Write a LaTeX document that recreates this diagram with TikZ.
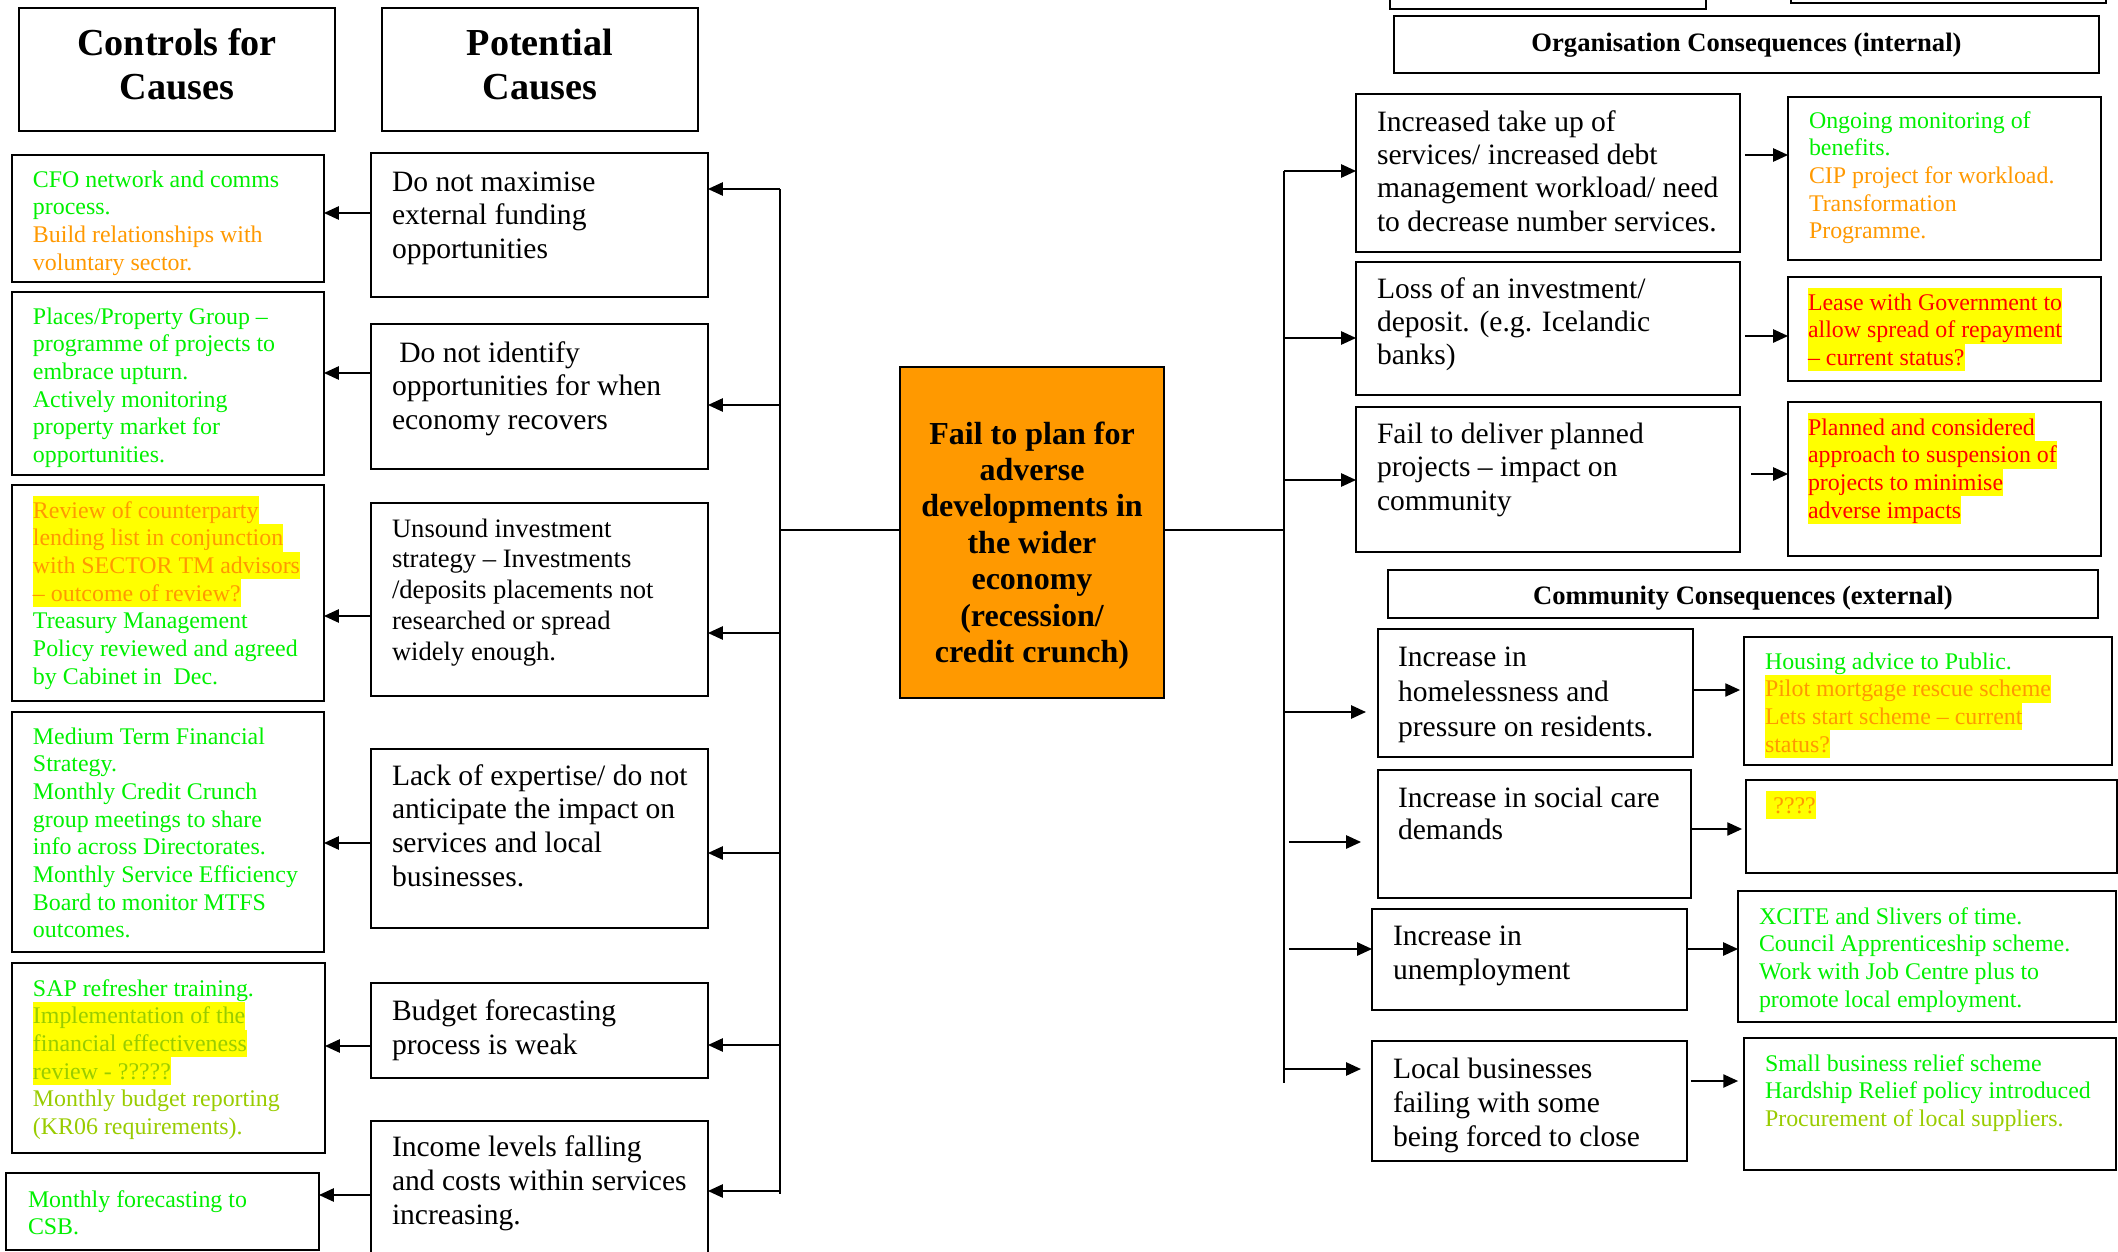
\documentclass[tikz,border=0pt]{standalone}
\usepackage{fontspec}
\setmainfont{Liberation Serif}
\usetikzlibrary{arrows.meta}

\definecolor{cgreen}{RGB}{0,240,0}
\definecolor{corange}{RGB}{255,153,0}
\definecolor{clime}{RGB}{153,204,0}
\definecolor{cred}{RGB}{255,0,0}
\definecolor{hly}{RGB}{255,255,0}

% one drawing unit
\newdimen\pxdim \pxdim=0.406pt

% box body: width, height, left pad, first baseline, content (top aligned, ragged right)
\newcommand\cellbox[5]{\parbox[c][#2\pxdim][t]{#1\pxdim}{\raggedright\leftskip=#3\pxdim\relax\lineskiplimit=-20pt\relax\rule{0pt}{#4\pxdim}#5}}
% centred variant: width, height, first baseline, content
\newcommand\cellboxc[4]{\parbox[c][#2\pxdim][t]{#1\pxdim}{\centering\lineskiplimit=-20pt\relax\rule{0pt}{#3\pxdim}#4}}

% text sizes
\newcommand\fcause{\fontsize{12}{13.8}\selectfont}
\newcommand\fctl{\fontsize{9.7}{11.25}\selectfont}
\newcommand\fhead{\bfseries\fontsize{15.5}{17.9}\selectfont}
\newcommand\fmain{\bfseries\fontsize{13}{14.8}\selectfont}
\newcommand\fsub{\bfseries\fontsize{10.8}{13}\selectfont}

% yellow marker behind one line of small text
\newcommand\hlc[1]{{\setlength\fboxsep{0pt}\colorbox{hly}{\rule[-2.45pt]{0pt}{11.25pt}#1}}}

\begin{document}
\begin{tikzpicture}[x=0.406pt,y=-0.406pt,
  bx/.style={draw=black, line width=0.6pt, inner sep=0pt, outer sep=0pt, anchor=north west},
  hd/.style={bx, line width=0.9pt},
  ln/.style={line width=0.55pt},
  arr/.style={line width=0.55pt, -{Triangle[length=6pt,width=5.4pt]}}]
\useasboundingbox (0,0) rectangle (2118,1252);
\fill[white] (0,0) rectangle (2118,1252);
\clip (0,0) rectangle (2118,1252);

% ---------- column headings ----------
\node[hd] (ctlhead) at (19,8) {\cellboxc{316}{123}{47}{\fhead Controls for\\Causes}};
\node[hd] (causehead) at (382,8) {\cellboxc{316}{123}{47}{\fhead Potential\\Causes}};

% ---------- controls for causes ----------
\node[bx] (cfo) at (12,155) {\cellbox{312}{127}{21}{32}{\fctl\color{cgreen}CFO network and comms\\process.\\\color{corange}Build relationships with\\voluntary sector.}};
\node[bx] (places) at (12,292) {\cellbox{312}{183}{21}{32}{\fctl\color{cgreen}Places/Property Group –\\programme of projects to\\embrace upturn.\\Actively monitoring\\property market for\\opportunities.}};
\node[bx] (review) at (12,485) {\cellbox{312}{216}{21}{33}{\fctl\color{corange}\hlc{Review of counterparty}\\\hlc{lending list in conjunction}\\\hlc{with SECTOR TM advisors}\\\hlc{– outcome of review?}\\\color{cgreen}Treasury Management\\Policy reviewed and agreed\\by Cabinet in\ \ Dec.}};
\node[bx] (medium) at (12,712) {\cellbox{312}{240}{21}{32}{\fctl\color{cgreen}Medium Term Financial\\Strategy.\\Monthly Credit Crunch\\group meetings to share\\info across Directorates.\\Monthly Service Efficiency\\Board to monitor MTFS\\outcomes.}};
\node[bx] (sap) at (12,963) {\cellbox{313}{190}{21}{33}{\fctl\color{cgreen}SAP refresher training.\\\color{clime}\hlc{Implementation of the}\\\hlc{financial effectiveness}\\\hlc{review - ?????}\\Monthly budget reporting\\(KR06 requirements).}};
\node[bx] (mfc) at (6,1173) {\cellbox{313}{77}{22}{34}{\fctl\color{cgreen}Monthly forecasting to\\CSB.}};

% ---------- potential causes ----------
\node[bx] (dnm) at (371,153) {\cellbox{337}{144}{21}{38}{\fcause Do not maximise\\external funding\\opportunities}};
\node[bx] (dni) at (371,324) {\cellbox{337}{145}{21}{38}{\fcause\ Do not identify\\opportunities for when\\economy recovers}};
\node[bx] (uns) at (371,503) {\cellbox{337}{193}{21}{34}{\fontsize{10.8}{12.5}\selectfont Unsound investment\\strategy – Investments\\/deposits placements not\\researched or spread\\widely enough.}};
\node[bx] (lack) at (371,749) {\cellbox{337}{179}{21}{36}{\fcause Lack of expertise/ do not\\anticipate the impact on\\services and local\\businesses.}};
\node[bx] (budget) at (371,983) {\cellbox{337}{95}{21}{37}{\fcause Budget forecasting\\process is weak}};
\node[bx] (income) at (371,1121) {\cellbox{337}{200}{21}{35}{\fontsize{12}{14}\selectfont Income levels falling\\and costs within services\\increasing.}};

% ---------- central risk ----------
\node[bx, fill=corange, line width=0.7pt] (main) at (900,367) {\cellboxc{264}{331}{77}{\fmain Fail to plan for\\adverse\\developments in\\the wider\\economy\\(recession/\\credit crunch)}};

% ---------- organisation consequences ----------
\node[hd] (topa) at (1390,-60) {\cellbox{316}{69}{0}{0}{}};
\node[hd] (topb) at (1791,-60) {\cellbox{315}{63}{0}{0}{}};
\node[hd] (orghead) at (1394,16) {\cellboxc{705}{57}{35}{\fsub Organisation Consequences (internal)}};

\node[bx] (inc) at (1356,94) {\cellbox{384}{158}{21}{37}{\fontsize{12}{13.6}\selectfont Increased take up of\\services/ increased debt\\management workload/ need\\to decrease number services.}};
\node[bx] (loss) at (1356,262) {\cellbox{384}{133}{21}{36}{\fontsize{12}{13.6}\selectfont Loss of an investment/\\deposit. (e.g. Icelandic\\banks)}};
\node[bx] (fail) at (1356,407) {\cellbox{384}{145}{21}{36}{\fontsize{12}{13.6}\selectfont Fail to deliver planned\\projects – impact on\\community}};

\node[bx] (ongo) at (1788,97) {\cellbox{313}{163}{21}{31}{\fctl\color{cgreen}Ongoing monitoring of\\benefits.\\\color{corange}CIP project for workload.\\Transformation\\Programme.}};
\node[bx] (lease) at (1788,277) {\cellbox{313}{104}{20}{33}{\fctl\color{cred}\hlc{Lease with Government to}\\\hlc{allow spread of repayment}\\\hlc{– current status?}}};
\node[bx] (plan) at (1788,402) {\cellbox{313}{154}{20}{33}{\fctl\color{cred}\hlc{Planned and considered}\\\hlc{approach to suspension of}\\\hlc{projects to minimise}\\\hlc{adverse impacts}}};

% ---------- community consequences ----------
\node[hd] (comhead) at (1388,570) {\cellboxc{710}{48}{34}{\fsub Community Consequences (external)}};

\node[bx] (home) at (1378,629) {\cellbox{315}{128}{20}{37}{\fontsize{12}{14.4}\selectfont Increase in\\homelessness and\\pressure on residents.}};
\node[bx, line width=1pt] (social) at (1378,770) {\cellbox{313}{128}{20}{37}{\fontsize{12}{13.2}\selectfont Increase in social care\\demands}};
\node[bx] (unemp) at (1372,909) {\cellbox{315}{101}{21}{36}{\fontsize{12}{14.2}\selectfont Increase in\\unemployment}};
\node[bx] (local) at (1372,1041) {\cellbox{315}{120}{21}{37}{\fontsize{12}{13.9}\selectfont Local businesses\\failing with some\\being forced to close}};

\node[bx] (housing) at (1744,637) {\cellbox{368}{128}{21}{32}{\fctl\color{cgreen}Housing advice to Public.\\\color{corange}\hlc{Pilot mortgage rescue scheme}\\\hlc{Lets start scheme – current}\\\hlc{status?}}};
\node[bx] (qq) at (1746,780) {\cellbox{371}{93}{20}{33}{\fctl\color{corange}\hlc{\hspace{3pt}????}}};
\node[bx] (xcite) at (1738,891) {\cellbox{378}{131}{21}{33}{\fctl\color{cgreen}XCITE and Slivers of time.\\Council Apprenticeship scheme.\\Work with Job Centre plus to\\promote local employment.}};
\node[bx] (small) at (1744,1038) {\cellbox{372}{132}{21}{33}{\fctl\color{cgreen}Small business relief scheme\\Hardship Relief policy introduced\\\color{clime}Procurement of local suppliers.}};

% ---------- connectors: causes side ----------
\coordinate (lx) at (780,530);
\coordinate (rx) at (1284,530);
\draw[ln] (main.west |- lx) -- (lx);
\draw[ln] (lx |- 0,189) -- (lx |- 0,1194);
\foreach \n/\y in {dnm/189, dni/405, uns/633, lack/853, budget/1045, income/1191}
  \draw[arr] (lx |- 0,\y) -- (\n.east |- 0,\y);
\foreach \a/\b/\y in {dnm/cfo/213, dni/places/373, uns/review/616, lack/medium/843, budget/sap/1046, income/mfc/1195}
  \draw[arr] (\a.west |- 0,\y) -- (\b.east |- 0,\y);

% ---------- connectors: consequences side ----------
\draw[ln] (main.east |- rx) -- (rx);
\draw[ln] (rx |- 0,171) -- (rx |- 0,1083);
\foreach \n/\y in {inc/171, loss/338, fail/480}
  \draw[arr] (rx |- 0,\y) -- (\n.west |- 0,\y);
\draw[arr, shorten >=4.9pt] (rx |- 0,712) -- (home.west |- 0,712);
\draw[arr, shorten <=2pt, shorten >=6.9pt] (rx |- 0,842) -- (social.west |- 0,842);
\draw[arr, shorten <=2pt] (rx |- 0,949) -- (unemp.west |- 0,949);
\draw[arr, shorten >=4.5pt] (rx |- 0,1069) -- (local.west |- 0,1069);

\draw[arr, shorten <=2pt] (inc.east |- 0,155) -- (ongo.west |- 0,155);
\draw[arr, shorten <=2pt] (loss.east |- 0,336) -- (lease.west |- 0,336);
\draw[arr, shorten <=4.5pt] (fail.east |- 0,474) -- (plan.west |- 0,474);
\draw[arr, shorten >=1.6pt] (home.east |- 0,690) -- (housing.west |- 0,690);
\draw[arr, shorten >=1.6pt] (social.east |- 0,829) -- (qq.west |- 0,829);
\draw[arr] (unemp.east |- 0,949) -- (xcite.west |- 0,949);
\draw[arr, shorten <=1.6pt, shorten >=2.4pt] (local.east |- 0,1081) -- (small.west |- 0,1081);
\end{tikzpicture}
\end{document}
